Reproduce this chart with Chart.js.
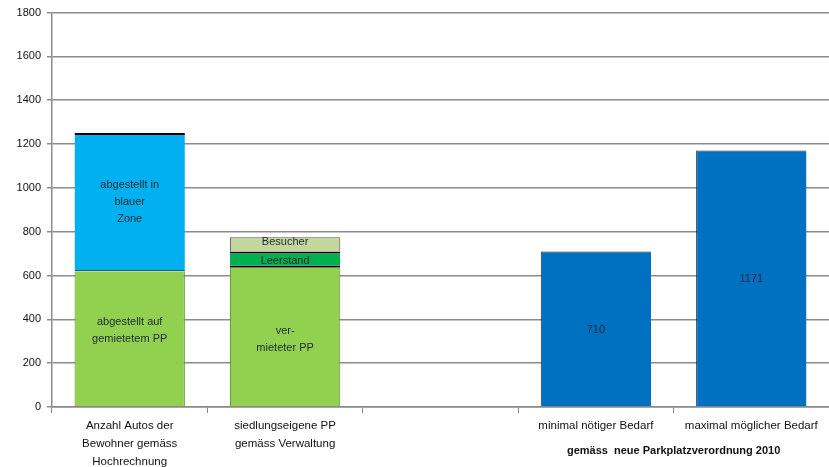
<!DOCTYPE html>
<html>
<head>
<meta charset="utf-8">
<script src="https://cdn.jsdelivr.net/npm/chart.js@4/dist/chart.umd.min.js"></script>
<style>
  html, body { margin: 0; padding: 0; background: #fff; }
  #wrap { width: 829px; height: 467px; }
</style>
</head>
<body>
<div id="wrap"><canvas id="canvas1"></canvas></div>
<script>
var categories = [
  ['Anzahl Autos der', 'Bewohner gemäss', 'Hochrechnung'],
  ['siedlungseigene PP', 'gemäss Verwaltung'],
  '',
  'minimal nötiger Bedarf',
  'maximal möglicher Bedarf'
];

var gemietet   = [620, null, null, null, null];
var blaueZone  = [630, null, null, null, null];
var vermietet  = [null, 635, null, null, null];
var leerstand  = [null, 75, null, null, null];
var besucher   = [null, 65, null, null, null];
var bedarf     = [null, null, null, 710, 1171];

var yTicks = [0, 200, 400, 600, 800, 1000, 1200, 1400, 1600, 1800];
var groupTitle = 'gemäss  neue Parkplatzverordnung 2010';

var FONT = "'Liberation Sans', Arial, sans-serif";

// text written inside the bar segments
var segLabels = {
  0: { 0: ['abgestellt auf', 'gemietetem PP'] },
  1: { 0: ['abgestellt in', 'blauer', 'Zone'] },
  2: { 1: ['ver-', 'mieteter PP'] },
  3: { 1: ['Leerstand'] },
  4: { 1: ['Besucher'] },
  5: { 3: ['710'], 4: ['1171'] }
};
// small vertical nudges so the text sits like in the original
var segShift = { 0: -8, 1: 0, 2: 2, 3: 1, 4: -2, 5: 1 };

var insideLabels = {
  id: 'insideLabels',
  afterDatasetsDraw: function(chart) {
    var ctx = chart.ctx;
    ctx.save();
    ctx.font = '11px ' + FONT;
    ctx.fillStyle = '#1e2a33';
    ctx.textAlign = 'center';
    ctx.textBaseline = 'middle';
    chart.data.datasets.forEach(function(ds, di) {
      var meta = chart.getDatasetMeta(di);
      var map = segLabels[di] || {};
      Object.keys(map).forEach(function(idx) {
        var el = meta.data[idx];
        if (!el) return;
        var lines = map[idx];
        var cy = (el.y + el.base) / 2 + (segShift[di] || 0);
        var lh = lines.length > 1 ? 17 : 0;
        lines.forEach(function(t, i) {
          ctx.fillText(t, el.x, cy + (i - (lines.length - 1) / 2) * lh);
        });
      });
    });
    // group caption under the last two categories
    var xs = chart.scales.x;
    ctx.font = 'bold 11px ' + FONT;
    ctx.fillStyle = '#111';
    ctx.fillText(groupTitle, xs.getPixelForValue(3.5), 451);
    ctx.restore();
  }
};

function ds(label, data, color, border, bw) {
  return {
    label: label,
    data: data,
    backgroundColor: color,
    borderColor: border,
    borderWidth: bw,
    borderSkipped: false
  };
}

new Chart(document.getElementById('canvas1').getContext('2d'), {
  type: 'bar',
  data: {
    labels: categories,
    datasets: [
      ds('abgestellt auf gemietetem PP', gemietet, '#92D050', '#5e8f2b', {top: 0, bottom: 0, left: 1, right: 1}),
      ds('abgestellt in blauer Zone', blaueZone, '#00B0F0', '#000', {top: 2, bottom: 1, left: 0, right: 0}),
      ds('vermieteter PP', vermietet, '#92D050', '#5e8f2b', {top: 0, bottom: 0, left: 1, right: 1}),
      ds('Leerstand', leerstand, '#00B050', '#000', {top: 2, bottom: 2, left: 0, right: 0}),
      ds('Besucher', besucher, '#C4D79B', '#555', {top: 1, bottom: 0, left: 1, right: 1}),
      ds('Bedarf', bedarf, '#0070C0', '#142c4a', {top: 1, bottom: 0, left: 1, right: 0})
    ]
  },
  options: {
    responsive: true,
    maintainAspectRatio: false,
    animation: false,
    categoryPercentage: 0.71,
    barPercentage: 1,
    layout: { padding: { top: 6, right: 0, left: 0, bottom: 0 } },
    plugins: {
      legend: { display: false },
      tooltip: { enabled: false }
    },
    scales: {
      x: {
        stacked: true,
        grid: { display: true, drawOnChartArea: false, drawTicks: true, tickLength: 6, color: '#888', offset: true },
        border: { color: '#888', width: 1.5 },
        ticks: { color: '#111', font: { family: FONT, size: 11.5, lineHeight: 1.55 }, maxRotation: 0, autoSkip: false, padding: 4 },
        afterFit: function(s) { s.height = 60; }
      },
      y: {
        stacked: true,
        min: 0,
        max: 1800,
        afterBuildTicks: function(s) { s.ticks = yTicks.map(function(v) { return { value: v }; }); },
        grid: { color: '#8c8c8c', lineWidth: 1.5, tickLength: 5 },
        border: { color: '#8c8c8c', width: 1.5 },
        ticks: { color: '#111', font: { family: FONT, size: 11 }, padding: 6,
                 callback: function(v) { return String(v); } },
        afterFit: function(s) { s.width = 52; }
      }
    }
  },
  plugins: [insideLabels]
});
</script>
</body>
</html>
